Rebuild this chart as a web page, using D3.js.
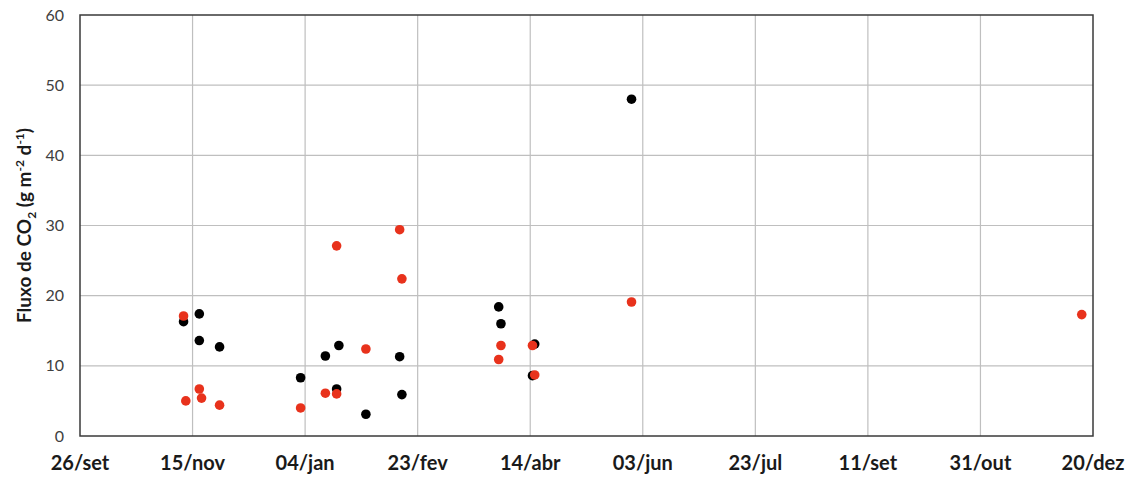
<!DOCTYPE html>
<html>
<head>
<meta charset="utf-8">
<script src="https://cdn.jsdelivr.net/npm/d3@7"></script>
<style>
  body { margin: 0; background: #fff; }
  svg { display: block; font-family: Lato, "Liberation Sans", sans-serif; }
</style>
</head>
<body>
<script>
// tick dates, every 50 days
const tickDates = ['2014-09-26', '2014-11-15', '2015-01-04', '2015-02-23', '2015-04-14',
  '2015-06-03', '2015-07-23', '2015-09-11', '2015-10-31', '2015-12-20'];
const tickLabels = ['26/set', '15/nov', '04/jan', '23/fev', '14/abr',
  '03/jun', '23/jul', '11/set', '31/out', '20/dez'];
const yTicks = [0, 10, 20, 30, 40, 50, 60];

const blackDates = ['2014-11-11', '2014-11-18', '2014-11-18', '2014-11-27', '2015-01-02',
  '2015-01-13', '2015-01-19', '2015-01-18', '2015-01-31', '2015-02-15', '2015-02-16',
  '2015-03-31', '2015-04-01', '2015-04-16', '2015-04-15', '2015-05-29'];
const blackValues = [16.3, 17.4, 13.6, 12.7, 8.3, 11.4, 12.9, 6.7, 3.1, 11.3, 5.9,
  18.4, 16.0, 13.1, 8.6, 48.0];

const redDates = ['2014-11-11', '2014-11-12', '2014-11-18', '2014-11-19', '2014-11-27',
  '2015-01-02', '2015-01-13', '2015-01-18', '2015-01-18', '2015-01-31', '2015-02-15',
  '2015-02-16', '2015-03-31', '2015-04-01', '2015-04-15', '2015-04-16', '2015-05-29',
  '2015-12-15'];
const redValues = [17.1, 5.0, 6.7, 5.4, 4.4, 4.0, 6.1, 27.1, 6.0, 12.4, 29.4,
  22.4, 10.9, 12.9, 12.9, 8.7, 19.1, 17.3];

const W = 1133, H = 478;
const m = {left: 80, right: 40, top: 15, bottom: 42};

const parse = d3.utcParse('%Y-%m-%d');

const svg = d3.select('body').append('svg')
  .attr('width', W)
  .attr('height', H);

const x = d3.scaleUtc()
  .domain([parse(tickDates[0]), parse(tickDates[tickDates.length - 1])])
  .range([m.left, W - m.right]);
const y = d3.scaleLinear()
  .domain([0, 60])
  .range([H - m.bottom, m.top]);

// grid
svg.append('g')
  .selectAll('line.h')
  .data(yTicks.slice(1, -1))
  .join('line')
  .attr('x1', m.left).attr('x2', W - m.right)
  .attr('y1', d => y(d)).attr('y2', d => y(d))
  .attr('stroke', '#bfbfbf').attr('stroke-width', 1.2);
svg.append('g')
  .selectAll('line.v')
  .data(tickDates.slice(1, -1))
  .join('line')
  .attr('x1', d => x(parse(d))).attr('x2', d => x(parse(d)))
  .attr('y1', m.top).attr('y2', H - m.bottom)
  .attr('stroke', '#bfbfbf').attr('stroke-width', 1.2);

// frame
svg.append('rect')
  .attr('x', m.left).attr('y', m.top)
  .attr('width', W - m.left - m.right)
  .attr('height', H - m.top - m.bottom)
  .attr('fill', 'none')
  .attr('stroke', '#3a3a3a')
  .attr('stroke-width', 1.5);

// y labels
svg.append('g')
  .selectAll('text')
  .data(yTicks)
  .join('text')
  .attr('x', m.left - 16)
  .attr('y', d => y(d))
  .attr('dy', '0.35em')
  .attr('text-anchor', 'end')
  .attr('font-size', 16)
  .attr('fill', '#404040')
  .text(d => d);

// x labels
svg.append('g')
  .selectAll('text')
  .data(tickDates)
  .join('text')
  .attr('x', d => x(parse(d)))
  .attr('y', 470)
  .attr('text-anchor', 'middle')
  .attr('font-size', 20)
  .attr('font-weight', 'bold')
  .attr('fill', '#1a1a1a')
  .text((d, i) => tickLabels[i]);

// y title
const title = svg.append('text')
  .attr('transform', `translate(31,${(m.top + H - m.bottom) / 2}) rotate(-90)`)
  .attr('text-anchor', 'middle')
  .attr('font-size', 19)
  .attr('font-weight', 'bold')
  .attr('fill', '#1a1a1a');
title.append('tspan').text('Fluxo de CO');
title.append('tspan').attr('font-size', 12).attr('dy', 5).text('2');
title.append('tspan').attr('dy', -5).text(' (g m');
title.append('tspan').attr('font-size', 12).attr('dy', -7).text('-2');
title.append('tspan').attr('dy', 7).text(' d');
title.append('tspan').attr('font-size', 12).attr('dy', -7).text('-1');
title.append('tspan').attr('dy', 7).text(')');

// points
svg.append('g')
  .selectAll('circle')
  .data(blackDates.map((d, i) => [parse(d), blackValues[i]]))
  .join('circle')
  .attr('cx', d => x(d[0]))
  .attr('cy', d => y(d[1]))
  .attr('r', 4.8)
  .attr('fill', '#000');

svg.append('g')
  .selectAll('circle')
  .data(redDates.map((d, i) => [parse(d), redValues[i]]))
  .join('circle')
  .attr('cx', d => x(d[0]))
  .attr('cy', d => y(d[1]))
  .attr('r', 4.8)
  .attr('fill', '#e8321c');
</script>
</body>
</html>
